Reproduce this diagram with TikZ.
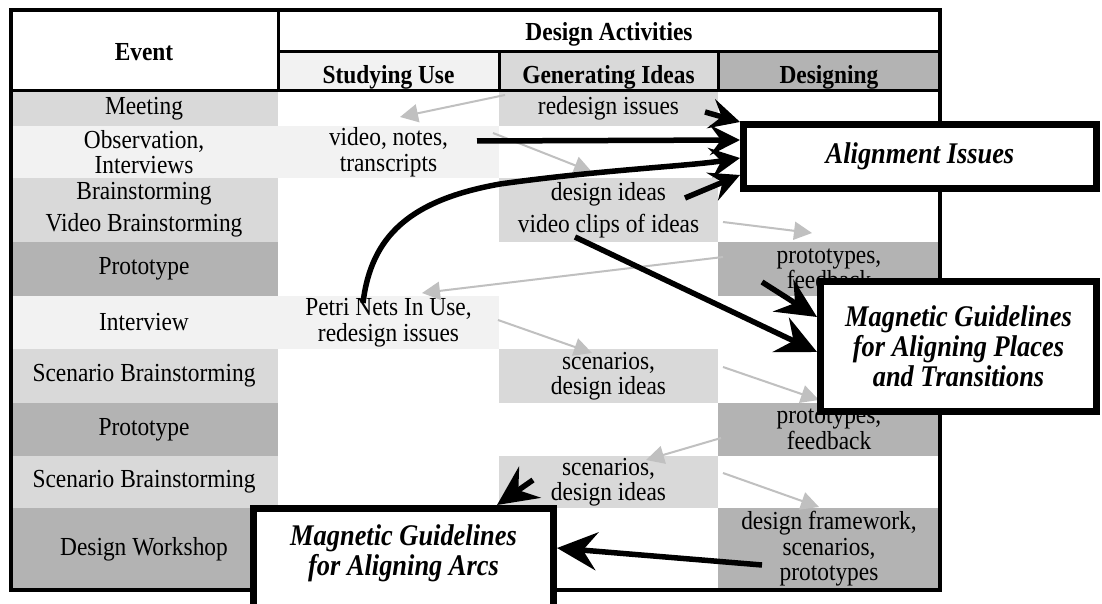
\documentclass[tikz,border=0pt]{standalone}
\usepackage{fontspec}
\setmainfont[FakeStretch=0.9]{Liberation Serif}
\newfontfamily\boxserif[FakeStretch=0.88]{Liberation Serif}
\usetikzlibrary{arrows.meta,calc}
\definecolor{gA}{HTML}{F2F2F2}
\definecolor{gB}{HTML}{D9D9D9}
\definecolor{gC}{HTML}{B3B3B3}
\definecolor{gArrow}{HTML}{C0C0C0}
\newcommand\regfont{\fontsize{13}{12.75}\selectfont}
\newcommand\headfont{\fontsize{13}{12.75}\selectfont\bfseries}
\newcommand\boxfont{\boxserif\fontsize{15}{15}\selectfont\bfseries\itshape}
\begin{document}
\begin{tikzpicture}[x=0.5pt,y=-0.5pt,
  cellbox/.style 2 args={inner sep=0pt, outer sep=0pt, align=center, font=\regfont, minimum width=#1, minimum height=#2},
  subhead/.style={font=\headfont, text height=13.5pt, text depth=1pt},
  headtxt/.style={inner sep=0pt, outer sep=0pt, align=center, font=\headfont},
  bigbox/.style={draw=black, fill=white, line width=3.5pt, inner sep=0pt, align=center, font=\boxfont},
  greyarrow/.style={draw=gArrow, line width=1pt, -{Triangle[length=9pt,width=9pt]}},
  bkS/.style={draw=black, line width=2.75pt, -{Stealth[length=15pt,width=15pt,inset=5.5pt]}},
  bkL/.style={draw=black, line width=2.75pt, -{Stealth[length=20pt,width=19pt,inset=7pt]}},
  frame/.style={draw=black, line width=2pt},
  rule/.style={draw=black, line width=1.5pt}
]
\useasboundingbox (0,0) rectangle (1102,604);
\clip (0,0) rectangle (1102,604);
\fill[white] (0,0) rectangle (1102,604);

% header
\node[cellbox={110.5pt}{19.5pt}, fill=gA, subhead] (hS) at (388.5,71.5) {Studying Use};
\node[cellbox={109.5pt}{19.5pt}, fill=gB, subhead] (hG) at (608.5,71.5) {Generating Ideas};
\node[cellbox={111pt}{19.5pt}, fill=gC, subhead] (hD) at (829,71.5) {Designing};
\node[headtxt] (hEv) at (144,52) {Event};
\node[headtxt] (hDA) at (609,34) {Design Activities};

% rows
\node[cellbox={134pt}{17.5pt}, fill=gB] (meetE) at (144,108.5) {Meeting};
\node[cellbox={109.5pt}{17.5pt}, fill=gB] (meetG) at (608.5,108.5) {redesign issues};
\node[cellbox={134pt}{26pt}, fill=gA] (obsE) at (144,152) {Observation,\\Interviews};
\node[cellbox={110.5pt}{26pt}, fill=gA] (obsS) at (388.5,152) {video, notes,\\transcripts};
\node[cellbox={134pt}{32pt}, fill=gB] (brE) at (144,210) {Brainstorming\\[3.25pt]Video Brainstorming};
\node[cellbox={109.5pt}{32pt}, fill=gB] (brG) at (608.5,210) {design ideas\\[3.25pt]video clips of ideas};
\node[cellbox={134pt}{27pt}, fill=gC] (proE) at (144,269) {Prototype};
\node[cellbox={111pt}{27pt}, fill=gC] (proD) at (829,269) {prototypes,\\feedback};
\node[cellbox={134pt}{26.5pt}, fill=gA] (intE) at (144,322.5) {Interview};
\node[cellbox={110.5pt}{26.5pt}, fill=gA] (intS) at (388.5,322.5) {Petri Nets In Use,\\redesign issues};
\node[cellbox={134pt}{27pt}, fill=gB] (scnE) at (144,376) {Scenario Brainstorming};
\node[cellbox={109.5pt}{27pt}, fill=gB] (scnG) at (608.5,376) {scenarios,\\design ideas};
\node[cellbox={134pt}{26.5pt}, fill=gC] (proTwoE) at (144,429.5) {Prototype};
\node[cellbox={111pt}{26.5pt}, fill=gC] (proTwoD) at (829,429.5) {prototypes,\\feedback};
\node[cellbox={134pt}{26pt}, fill=gB] (scnTwoE) at (144,482) {Scenario Brainstorming};
\node[cellbox={109.5pt}{26pt}, fill=gB] (scnTwoG) at (608.5,482) {scenarios,\\design ideas};
\node[cellbox={134pt}{41pt}, fill=gC] (dwE) at (144,549) {Design Workshop};
\node[cellbox={111pt}{41pt}, fill=gC] (dwD) at (829,549) {design framework,\\scenarios,\\prototypes};

% table lines
\draw[frame] (10.5,10.5) rectangle (940,590);
\draw[rule] (278,10.5) -- (278,91) (278,52) -- (940,52) (10.5,91) -- (940,91)
  (499,52) -- (499,91) (718,52) -- (718,91);

% grey arrows
\coordinate (gaS) at (505,95);  \coordinate (gaE) at (400,117);
\coordinate (gbS) at (493,133); \coordinate (gbE) at (592,172);
\coordinate (gcS) at (723,222); \coordinate (gcE) at (812,233);
\coordinate (gdS) at (723,257); \coordinate (gdE) at (422,293);
\coordinate (geS) at (498,320); \coordinate (geE) at (592,353);
\coordinate (gfS) at (723,367); \coordinate (gfE) at (819,400);
\coordinate (ggS) at (721,438); \coordinate (ggE) at (646,460);
\coordinate (ghS) at (723,473); \coordinate (ghE) at (819,507);
\draw[greyarrow] (gaS) -- (gaE);
\draw[greyarrow] (gbS) -- (gbE);
\draw[greyarrow] (gcS) -- (gcE);
\draw[greyarrow] (gdS) -- (gdE);
\draw[greyarrow] (geS) -- (geE);
\draw[greyarrow] (gfS) -- (gfE);
\draw[greyarrow] (ggS) -- (ggE);
\draw[greyarrow] (ghS) -- (ghE);

% boxes
\node[bigbox, minimum width=176.5pt, minimum height=32pt] (align) at (920,156.5) {Alignment Issues};
\node[bigbox, minimum width=138pt, minimum height=65pt] (places) at (958.5,346.5) {Magnetic Guidelines\\for Aligning Places\\and Transitions};
\node[bigbox, minimum width=150pt, minimum height=75.75pt] (arcs) at (403.5,584.25) {};
\node[inner sep=0pt, align=center, font=\boxfont] (arcstext) at (403.5,553) {Magnetic Guidelines\\for Aligning Arcs};

% black arrows
\coordinate (ka) at (705,112);
\coordinate (kb) at (477,141);
\coordinate (kc) at (363,303);
\coordinate (kd) at (685,198);
\coordinate (ke) at (762,282);
\coordinate (kf) at (575,237);
\coordinate (kg) at (533,480);
\coordinate (kh) at (762,565);
\draw[bkS] (ka) -- ($(align.west)+(0,-34.5)$);
\draw[bkS] (kb) -- ($(align.west)+(0,-16.5)$);
\draw[bkS] (kc) .. controls (371,236) and (410,200) .. (500,184) .. controls (600,170) and (690,166) .. ($(align.west)+(0,1.5)$);
\draw[bkS] (kd) -- ($(align.west)+(0,18.5)$);
\draw[bkL] (ke) -- ($(places.west)+(0,-29.5)$);
\draw[bkL] (kf) -- ($(places.west)+(0,5.5)$);
\draw[bkL] (kg) -- ($(arcs.north)+(93.5,0)$);
\draw[bkL] (kh) -- ($(arcs.east)+(0,-36.25)$);
\end{tikzpicture}
\end{document}
